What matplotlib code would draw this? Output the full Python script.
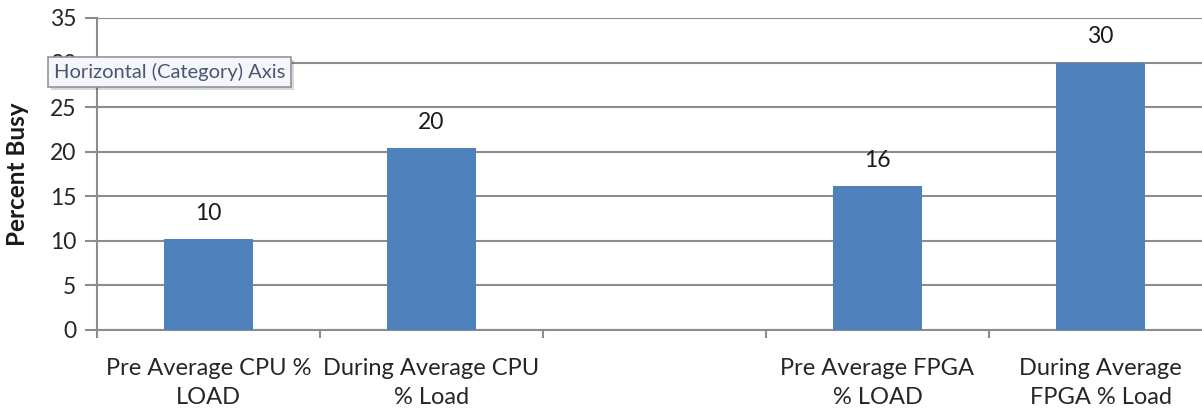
import matplotlib
matplotlib.use("Agg")
import matplotlib.pyplot as plt
from matplotlib.patches import Rectangle
import numpy as np

categories = ["Pre Average CPU %\nLOAD", "During Average CPU\n% Load", "",
              "Pre Average FPGA\n% LOAD", "During Average\nFPGA % Load"]
values = [10.2, 20.4, np.nan, 16.1, 30.0]
y_ticks = [0, 5, 10, 15, 20, 25, 30, 35]
y_label = "Percent Busy"
tooltip = "Horizontal (Category) Axis"

plt.rcParams['font.family'] = ['Lato', 'DejaVu Sans']

W, H = 1202, 413
fig = plt.figure(figsize=(W / 100, H / 100), dpi=100)
ax = fig.add_axes([97 / W, 83 / H, (1212 - 97) / W, (330 - 18) / H])

x = np.arange(len(categories))
bar_color = "#4f81bd"
bars = ax.bar(x, values, width=0.4, color=bar_color, zorder=3)

for xi, v in zip(x, values):
    if np.isnan(v):
        continue
    ax.annotate(f"{v:.0f}", (xi, v), xytext=(0, 11), textcoords="offset points",
                ha="center", va="bottom", fontsize=16.5, color="#1a1a1a")

ax.set_xlim(-0.5, len(categories) - 0.5)
ax.set_ylim(0, 35)
ax.set_yticks(y_ticks)
ax.set_yticklabels([str(t) for t in y_ticks], fontsize=16.5, color="#262626")
ax.yaxis.grid(True, color="#8c8c8c", linewidth=1.5, zorder=0)
ax.set_axisbelow(True)

ax.set_xticks(x)
ax.set_xticklabels(categories, fontsize=17, color="#262626", linespacing=1.5)
ax.set_xticks(np.arange(len(categories) + 1) - 0.5, minor=True)
ax.tick_params(axis="x", which="major", length=0, pad=20)
ax.tick_params(axis="x", which="minor", length=6, width=1.5, color="#8c8c8c", direction="out")
ax.tick_params(axis="y", which="major", length=9, width=1.5, color="#8c8c8c", direction="out", pad=6)

for side in ["top", "right"]:
    ax.spines[side].set_visible(False)
for side in ["left", "bottom"]:
    ax.spines[side].set_color("#8c8c8c")
    ax.spines[side].set_linewidth(1.5)

fig.text(18 / W, 1 - 174 / H, y_label, rotation=90, ha="center", va="center",
         fontsize=17.5, fontweight="bold", color="#1a1a1a")

# tooltip overlay
tip = fig.text(54 / W, 1 - 72 / H, tooltip, ha="left", va="center", fontsize=14.5,
               color="#4a5670", zorder=10,
               bbox=dict(boxstyle="square,pad=0.3", facecolor="#f4f6fa",
                         edgecolor="#8f959e", linewidth=1.2))
fig.canvas.draw()
bb = tip.get_bbox_patch().get_window_extent()
shadow = Rectangle(((bb.x0 + 3) / W, (bb.y0 - 3) / H), bb.width / W, bb.height / H,
                   transform=fig.transFigure, facecolor="#00000026",
                   edgecolor="none", zorder=9)
fig.add_artist(shadow)

fig.savefig("out.png", dpi=100)
